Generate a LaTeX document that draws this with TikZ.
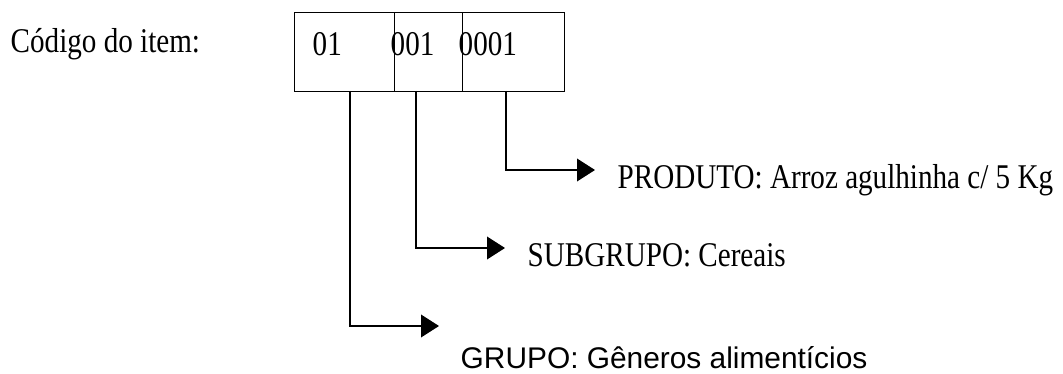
\documentclass[tikz,border=0pt]{standalone}
\usepackage{fontspec}
\usepackage{tikz}
\usetikzlibrary{arrows.meta}
\setmainfont{Liberation Serif}[FakeStretch=0.84]
\newfontfamily\grupofont{Liberation Sans}

\begin{document}
\begin{tikzpicture}[x=0.75pt,y=-0.75pt,line width=1.1pt,
  every node/.style={inner sep=0pt,anchor=base west,font=\fontsize{26}{30}\selectfont},
  cell/.style={draw,anchor=north west,minimum height=59.25pt},
  link/.style={-{Triangle[length=13.5pt,width=17pt]}}]
  \useasboundingbox (0,0) rectangle (1063,374);
  \node (titulo) at (10,53) {Código do item:};

  \node[cell,minimum width=75pt] (c1) at (294,12) {};
  \node[cell,minimum width=51pt] (c2) at (394,12) {};
  \node[cell,minimum width=76.5pt] (c3) at (462,12) {};
  \node (d1) at (312,56) {01};
  \node (d2) at (390,56) {001};
  \node (d3) at (458,56) {0001};

  \coordinate (p0) at (506,91);
  \coordinate (p1) at (595,170);
  \coordinate (s0) at (416,91);
  \coordinate (s1) at (505,248);
  \coordinate (g0) at (350,91);
  \coordinate (g1) at (439,326);

  \node (prod) at (617,188) {PRODUTO: Arroz agulhinha c/ 5 Kg};
  \node (sub) at (527,266) {SUBGRUPO: Cereais};
  \node[font=\fontsize{22.4}{27}\selectfont\grupofont] (grupo) at (460,368) {GRUPO: Gêneros alimentícios};

  \foreach \from/\to in {p0/p1,s0/s1,g0/g1}
    \draw[link] (\from) |- (\to);

\end{tikzpicture}
\end{document}
